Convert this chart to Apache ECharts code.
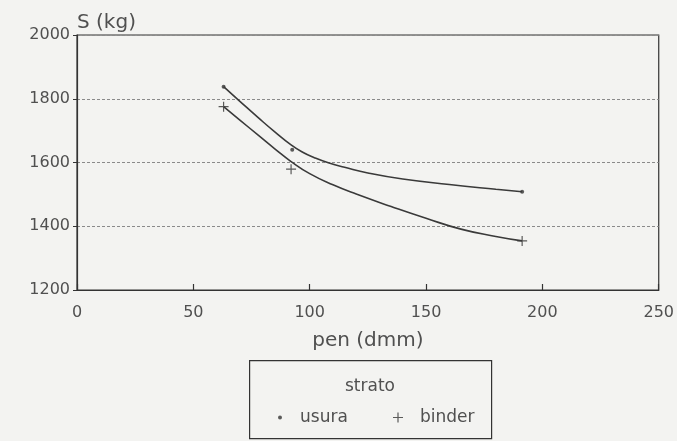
<!DOCTYPE html>
<html>
<head>
<meta charset="utf-8">
<script src="https://cdn.jsdelivr.net/npm/echarts@6/dist/echarts.min.js"></script>
<style>
  html, body { margin: 0; padding: 0; background: #f3f3f1; }
  #chart { width: 677px; height: 441px; }
</style>
</head>
<body>
<div id="chart"></div>
<script>
// Measured points: stability S (kg) against penetration (dmm), per layer
const penUsura = [63, 92.5, 191.3];
const sUsura = [1838, 1640, 1508];
const penBinder = [63, 92, 191.3];
const sBinder = [1775, 1579, 1354];

// Fitted trend curves for each layer
const penFitUsura = [63, 70, 78, 85, 92, 97, 102, 108, 115, 125, 140, 160, 180, 191.3];
const fitUsura = [1838, 1792, 1740, 1696, 1655, 1632, 1615, 1599, 1585, 1567, 1548, 1531, 1516, 1508];
const penFitBinder = [63, 70, 78, 85, 92, 100, 110, 120, 135, 150, 165, 180, 191.3];
const fitBinder = [1775, 1733, 1685, 1643, 1603, 1565, 1530, 1501, 1462, 1425, 1391, 1368, 1354];

// Axis ticks
const xTicks = [0, 50, 100, 150, 200, 250];
const yTicks = [1200, 1400, 1600, 1800, 2000];

const pair = (xs, ys) => xs.map((x, i) => [x, ys[i]]);

const ink = '#333333';
const textCol = '#505050';
const font = 'DejaVu Sans';
const plusPath = 'path://M4.4,0h1.2v4.4h4.4v1.2h-4.4v4.4h-1.2v-4.4h-4.4v-1.2h4.4z';

const chart = echarts.init(document.getElementById('chart'));
chart.setOption({
  animation: false,
  backgroundColor: '#f3f3f1',
  textStyle: { fontFamily: font, color: textCol },
  grid: {
    left: 77, right: 17, top: 35, bottom: 151,
    show: true, borderColor: ink, borderWidth: 1.2, backgroundColor: 'transparent'
  },
  xAxis: {
    type: 'value',
    min: xTicks[0], max: xTicks[xTicks.length - 1], interval: 50,
    name: 'pen (dmm)', nameLocation: 'middle', nameGap: 41,
    nameTextStyle: { fontFamily: font, fontSize: 20, color: textCol },
    axisLine: { show: true, lineStyle: { color: ink, width: 1.2 } },
    axisTick: { show: true, inside: true, length: 6, lineStyle: { color: ink, width: 1.2 } },
    axisLabel: { fontFamily: font, fontSize: 16, color: textCol, margin: 15, formatter: v => String(v) },
    splitLine: { show: false }
  },
  yAxis: {
    type: 'value',
    min: yTicks[0], max: yTicks[yTicks.length - 1], interval: 200,
    name: 'S (kg)', nameLocation: 'end', nameGap: 2,
    nameTextStyle: { fontFamily: font, fontSize: 20, color: textCol, align: 'left', verticalAlign: 'bottom' },
    axisLine: { show: true, lineStyle: { color: ink, width: 1.2 } },
    axisTick: { show: true, inside: false, length: 4, lineStyle: { color: ink, width: 1 } },
    axisLabel: { fontFamily: font, fontSize: 16, color: textCol, margin: 7, padding: [6, 0, 0, 0], formatter: v => String(v) },
    splitLine: { show: true, lineStyle: { color: '#8a8a8a', width: 1, type: [3, 2] } }
  },
  legend: [
    {
      data: ['usura'], left: 278, top: 409, padding: 0,
      itemWidth: 4, itemHeight: 4, itemGap: 0,
      textStyle: { fontFamily: font, fontSize: 17, color: textCol, padding: [0, 0, 0, 13] }
    },
    {
      data: ['binder'], left: 393, top: 409, padding: 0,
      itemWidth: 10, itemHeight: 10, itemGap: 0,
      textStyle: { fontFamily: font, fontSize: 17, color: textCol, padding: [0, 0, 0, 12] }
    }
  ],
  graphic: [
    {
      type: 'rect', left: 249, top: 360, silent: true,
      shape: { width: 242, height: 78 },
      style: { fill: 'transparent', stroke: ink, lineWidth: 1.2 }
    },
    {
      type: 'text', left: 345, top: 378, silent: true,
      style: { text: 'strato', fill: textCol, font: '17px "DejaVu Sans"' }
    }
  ],
  series: [
    {
      name: 'usura fit', type: 'line', data: pair(penFitUsura, fitUsura),
      smooth: 0.5, symbol: 'none', silent: true,
      lineStyle: { color: '#3a3a3a', width: 1.6 }
    },
    {
      name: 'binder fit', type: 'line', data: pair(penFitBinder, fitBinder),
      smooth: 0.5, symbol: 'none', silent: true,
      lineStyle: { color: '#3a3a3a', width: 1.6 }
    },
    {
      name: 'usura', type: 'scatter', data: pair(penUsura, sUsura),
      symbol: 'circle', symbolSize: 4, itemStyle: { color: ink }
    },
    {
      name: 'binder', type: 'scatter', data: pair(penBinder, sBinder),
      symbol: plusPath, symbolSize: 10, itemStyle: { color: ink }
    }
  ]
});
</script>
</body>
</html>
